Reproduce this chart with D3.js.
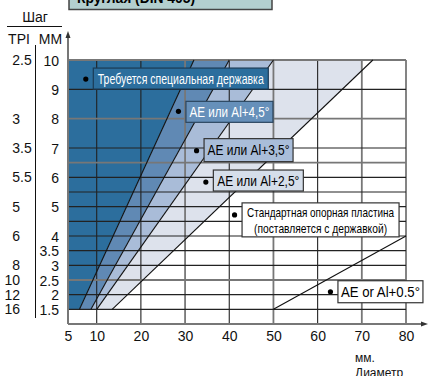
<!DOCTYPE html>
<html>
<head>
<meta charset="utf-8">
<script src="https://cdn.jsdelivr.net/npm/d3@7"></script>
<style>
  body { margin: 0; background: #fff; }
  svg { display: block; font-family: 'Liberation Sans', Arial, sans-serif; }
</style>
</head>
<body>
<svg width="428" height="376"></svg>
<script>
const title = 'Круглая (DIN 405)'
const diameterTicks = [5, 10, 20, 30, 40, 50, 60, 70, 80]
const mmTicks = [10, 9, 8, 7, 6, 5, 4, 3.5, 3, 2.5, 2, 1.5]
const tpiAt = [10, 8, 7, 6, 5, 4, 3, 2.5, 2, 1.5]
const tpiValues = ['2.5', '3', '3.5', '5.5', '5', '6', '8', '10', '12', '16']
const gridMm = [1.5, 2, 2.5, 3, 3.5, 4, 4.5, 5, 5.5, 6, 6.5, 7, 8, 9, 10]
const gridDiam = [10, 20, 30, 40, 50, 60, 70, 80]
// zone boundaries: diameter where the line meets pitch 1.5 mm and pitch 10 mm
const lineLow = [7, 9, 10, 13.5]
const lineHigh = [32, 40, 50, 72.5]
const lastLine = [[50, 1.5], [80, 4]]
const zoneLabels = [
  ['Требуется специальная державка'],
  ['AE или Al+4,5°'],
  ['AE или Al+3,5°'],
  ['AE или Al+2,5°'],
  ['Стандартная опорная пластина', '(поставляется с державкой)'],
  ['AE or Al+0.5°']
]
const labelDiam = [8.1, 28.5, 32.6, 34.7, 41.2, 62.9]
const labelMm = [9.35, 8.25, 6.91, 5.84, 4.72, 2.1]

const zoneColors = ['#2c6e9d', '#6089b4', '#a9bcd8', '#dde2ec']
const boxStyle = [
  { w: 175, h: 21, top: -11, fill: '#2c6e9d', stroke: '#1b3b55', color: '#fff', size: 14, len: [166] },
  { w: 87, h: 21, top: -10, fill: '#6690ba', stroke: '#2b4660', color: '#fff', size: 14, len: [80] },
  { w: 89, h: 23, top: -12, fill: '#a9bdd9', stroke: '#333', color: '#000', size: 14, len: [82] },
  { w: 90, h: 21, top: -12, fill: '#d5deea', stroke: '#333', color: '#000', size: 14, len: [82] },
  { w: 157, h: 34, top: -12, fill: '#fff', stroke: '#333', color: '#000', size: 13, len: [147, 133] },
  { w: 85, h: 22, top: -11, fill: '#fff', stroke: '#333', color: '#000', size: 14, len: [79] }
]

const svg = d3.select('svg')

const x = d3.scaleLinear().domain([5, 10, 80]).range([68, 96.7, 406])
const y = d3.scaleLinear().domain([1, 10]).range([324, 60])

// title box (cut at the top edge)
svg.append('rect')
  .attr('x', 69).attr('y', -14).attr('width', 203).attr('height', 23.5)
  .attr('fill', '#b3cfcf').attr('stroke', '#444').attr('stroke-width', 1.5)
svg.append('text')
  .attr('x', 77).attr('y', 3)
  .attr('font-size', 15).attr('font-weight', 'bold')
  .attr('textLength', 118).attr('lengthAdjust', 'spacingAndGlyphs')
  .text(title)

// zones
svg.append('clipPath').attr('id', 'zclip')
  .append('rect')
  .attr('x', x(5)).attr('y', y(10))
  .attr('width', x(70) - x(5)).attr('height', y(1.5) - y(10))

const zones = lineLow.map((lo, i) => [
  [i === 0 ? 5 : lineLow[i - 1], 1.5],
  [lo, 1.5],
  [lineHigh[i], 10],
  [i === 0 ? 5 : lineHigh[i - 1], 10]
])

svg.append('g').attr('clip-path', 'url(#zclip)')
  .selectAll('polygon').data(zones)
  .enter().append('polygon')
  .attr('points', d => d.map(p => [x(p[0]), y(p[1])].join(',')).join(' '))
  .attr('fill', (d, i) => zoneColors[i])

// grid
const heavyDiam = [30, 50, 70, 80]
const heavyMm = [10, 8, 6.5, 2.5]
const grid = svg.append('g')
grid.selectAll('.vg').data(gridDiam)
  .enter().append('line')
  .attr('x1', d => x(d)).attr('x2', d => x(d))
  .attr('y1', y(10)).attr('y2', y(1))
  .attr('stroke', d => heavyDiam.includes(d) ? '#777' : '#222')
  .attr('stroke-width', d => heavyDiam.includes(d) ? 1.8 : 1.1)
grid.selectAll('.hg').data(gridMm)
  .enter().append('line')
  .attr('x1', x(5)).attr('x2', x(80))
  .attr('y1', d => y(d)).attr('y2', d => y(d))
  .attr('stroke', d => heavyMm.includes(d) ? '#777' : '#222')
  .attr('stroke-width', d => heavyMm.includes(d) ? 1.8 : 1.1)

// zone boundaries
svg.append('g').selectAll('line').data(lineLow)
  .enter().append('line')
  .attr('x1', d => x(d)).attr('y1', y(1.5))
  .attr('x2', (d, i) => x(lineHigh[i])).attr('y2', y(10))
  .attr('stroke', '#111').attr('stroke-width', 1.1)
svg.append('line')
  .attr('x1', x(lastLine[0][0])).attr('y1', y(lastLine[0][1]))
  .attr('x2', x(lastLine[1][0])).attr('y2', y(lastLine[1][1]))
  .attr('stroke', '#111').attr('stroke-width', 1.1)

// axes with arrows
svg.append('line')
  .attr('x1', x(5)).attr('y1', y(1)).attr('x2', x(5)).attr('y2', 36)
  .attr('stroke', '#777').attr('stroke-width', 2)
svg.append('path')
  .attr('d', `M${x(5) - 2.5},38 L${x(5)},31 L${x(5) + 2.5},38 Z`)
  .attr('fill', '#333')
svg.append('line')
  .attr('x1', x(5)).attr('y1', y(1)).attr('x2', 423).attr('y2', y(1))
  .attr('stroke', '#777').attr('stroke-width', 2)
svg.append('path')
  .attr('d', `M421,${y(1) - 2.5} L428,${y(1)} L421,${y(1) + 2.5} Z`)
  .attr('fill', '#333')

const xAxis = d3.axisBottom(x).tickValues(diameterTicks).tickSize(0).tickPadding(0)
svg.append('g')
  .attr('transform', `translate(0, ${y(1)})`)
  .call(xAxis)
  .call(g => g.select('.domain').remove())
  .selectAll('text')
  .attr('y', 7)
  .attr('font-size', 14)
  .attr('font-family', 'Liberation Sans, Arial, sans-serif')
  .attr('fill', '#111')

svg.append('text').attr('x', 355).attr('y', 362).attr('font-size', 12).attr('fill', '#111').text('мм.')
svg.append('text').attr('x', 355).attr('y', 377).attr('font-size', 12).attr('fill', '#111').text('Диаметр')

// left scales: pitch in mm and TPI
const yAxis = d3.axisLeft(y).tickValues(mmTicks).tickSize(0).tickPadding(0)
  .tickFormat(d => String(d))
svg.append('g')
  .attr('transform', 'translate(59, 0)')
  .call(yAxis)
  .call(g => g.select('.domain').remove())
  .selectAll('text')
  .attr('x', 0)
  .attr('dy', '0.36em')
  .attr('font-size', 14)
  .attr('font-family', 'Liberation Sans, Arial, sans-serif')
  .attr('fill', '#111')

const tpi = svg.append('g').attr('font-size', 14).attr('fill', '#111')
tpiValues.forEach((v, i) => {
  const parts = v.split('.')
  tpi.append('text')
    .attr('x', 20).attr('y', y(tpiAt[i])).attr('dy', '0.36em')
    .attr('text-anchor', 'end').text(parts[0])
  if (parts[1]) {
    tpi.append('text')
      .attr('x', 20).attr('y', y(tpiAt[i])).attr('dy', '0.36em')
      .text('.' + parts[1])
  }
})

svg.append('text').attr('x', 35).attr('y', 22).attr('text-anchor', 'middle')
  .attr('font-size', 14).attr('fill', '#111').text('Шаг')
svg.append('line').attr('x1', 7).attr('x2', 62).attr('y1', 26.5).attr('y2', 26.5)
  .attr('stroke', '#111').attr('stroke-width', 1)
svg.append('text').attr('x', 19).attr('y', 44).attr('text-anchor', 'middle')
  .attr('font-size', 14).attr('fill', '#111').text('TPI')
svg.append('text').attr('x', 50.5).attr('y', 44).attr('text-anchor', 'middle')
  .attr('font-size', 14).attr('fill', '#111').text('ММ')
svg.append('line').attr('x1', 35.5).attr('x2', 35.5).attr('y1', 45).attr('y2', 318)
  .attr('stroke', '#111').attr('stroke-width', 1)

// zone labels
zoneLabels.forEach((lines, i) => {
  const s = boxStyle[i]
  const px = x(labelDiam[i])
  const py = y(labelMm[i])
  const g = svg.append('g')
  g.append('circle').attr('cx', px).attr('cy', py).attr('r', 2.6).attr('fill', '#000')
  const bx = px + 7.5
  const by = py + s.top
  g.append('rect')
    .attr('x', bx).attr('y', by).attr('width', s.w).attr('height', s.h)
    .attr('fill', s.fill).attr('stroke', s.stroke).attr('stroke-width', 1.2)
  const lh = 16
  const y0 = by + s.h / 2 - (lines.length - 1) * lh / 2
  lines.forEach((t, j) => {
    g.append('text')
      .attr('x', bx + s.w / 2).attr('y', y0 + j * lh).attr('dy', '0.36em')
      .attr('text-anchor', 'middle')
      .attr('font-size', s.size).attr('fill', s.color)
      .attr('textLength', s.len[j]).attr('lengthAdjust', 'spacingAndGlyphs')
      .text(t)
  })
})
</script>
</body>
</html>
